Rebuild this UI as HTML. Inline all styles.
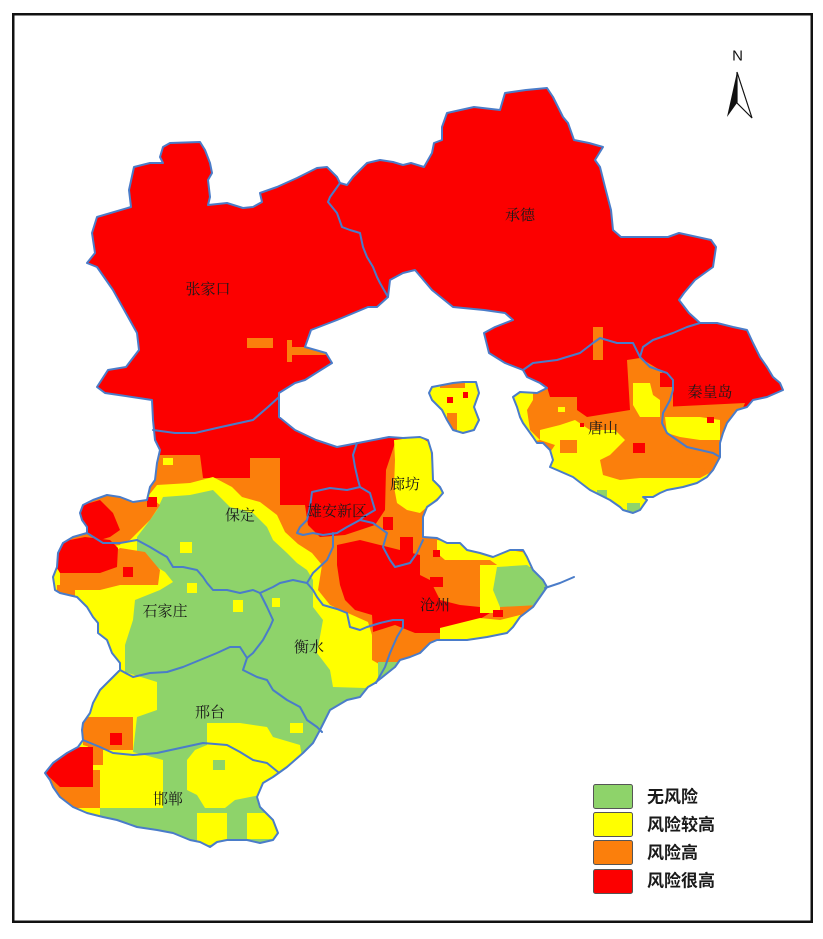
<!DOCTYPE html>
<html>
<head>
<meta charset="utf-8">
<style>
html,body{margin:0;padding:0;background:#fff;}
svg{display:block;}
.lbl{font-family:"Liberation Serif","Noto Serif CJK SC",serif;font-size:15px;fill:#1a1a1a;}
.leg{font-family:"Liberation Sans","Noto Sans CJK SC",sans-serif;font-size:17px;font-weight:bold;fill:#1a1a1a;}
</style>
</head>
<body>
<svg width="823" height="939" viewBox="0 0 823 939" xmlns="http://www.w3.org/2000/svg">
<defs>
<clipPath id="heb">
<path id="outerShape" d="M163,147 L170,143 L200,142 L205,150 L210,163 L212,173 L208,180 L210,197 L208,205 L227,203 L243,208 L253,207 L262,202 L260,193 L277,187 L297,178 L317,168 L327,167 L337,177 L340,183 L347,185 L353,177 L367,163 L380,160 L393,162 L403,165 L411,163 L424,167 L432,153 L434,143 L442,140 L442,127 L447,113 L474,107 L500,110 L505,93 L526,90 L547,88 L553,97 L563,117 L568,123 L574,140 L589,143 L603,147 L595,160 L600,167 L605,187 L611,210 L613,230 L621,237 L668,237 L679,233 L711,240 L716,247 L713,267 L695,280 L684,293 L679,300 L689,313 L700,323 L717,323 L733,327 L747,330 L753,343 L760,357 L767,367 L773,377 L780,383 L783,390 L767,397 L753,400 L747,407 L737,410 L727,423 L723,433 L720,443 L720,457 L713,470 L707,477 L697,483 L683,487 L667,490 L660,493 L653,497 L643,497 L647,500 L640,510 L633,513 L623,510 L620,507 L610,500 L590,490 L573,477 L557,470 L550,467 L553,460 L550,450 L543,443 L537,443 L533,437 L523,423 L520,417 L517,407 L513,397 L520,392 L537,393 L547,388 L540,383 L527,377 L523,370 L505,363 L489,353 L484,333 L495,327 L513,320 L505,313 L484,310 L453,307 L432,290 L415,270 L403,273 L390,280 L388,297 L377,307 L368,307 L337,320 L311,330 L305,347 L326,353 L332,363 L316,373 L305,380 L295,383 L279,393 L279,417 L295,430 L316,440 L337,447 L358,443 L389,437 L403,438 L420,437 L428,440 L432,453 L433,480 L440,487 L443,493 L437,500 L427,507 L423,517 L423,537 L437,538 L447,543 L460,543 L467,550 L480,553 L493,557 L510,550 L523,550 L527,557 L533,570 L543,580 L547,587 L540,597 L533,607 L520,617 L513,627 L507,633 L487,637 L467,640 L447,640 L437,640 L430,643 L420,653 L410,657 L400,660 L395,667 L385,675 L375,683 L368,687 L360,697 L347,700 L330,710 L320,730 L313,743 L303,753 L287,767 L273,777 L263,783 L257,797 L260,807 L273,820 L278,833 L273,840 L260,843 L247,840 L227,840 L217,842 L210,847 L200,842 L190,840 L173,833 L157,830 L137,827 L117,820 L103,817 L87,813 L73,807 L60,797 L53,787 L50,780 L45,773 L53,763 L67,753 L78,747 L83,740 L82,730 L83,723 L90,713 L93,703 L100,690 L110,680 L120,670 L120,663 L112,653 L107,640 L98,633 L98,623 L93,617 L87,607 L77,597 L60,593 L55,590 L53,577 L57,567 L58,553 L63,543 L73,537 L87,533 L87,527 L82,520 L80,513 L83,505 L93,500 L107,495 L120,497 L133,502 L147,500 L150,487 L155,480 L157,463 L160,450 L155,440 L153,420 L152,400 L105,393 L97,387 L108,370 L126,367 L139,350 L137,333 L113,290 L97,267 L87,263 L95,253 L92,233 L97,217 L131,207 L129,190 L134,167 L150,163 L163,163 L160,157 Z"/>
<path id="islandShape" d="M432,387 L453,383 L463,382 L476,382 L479,393 L474,407 L479,420 L474,430 L463,433 L453,430 L447,420 L442,410 L432,400 L429,393 Z"/>
</clipPath>
</defs>

<rect x="0" y="0" width="823" height="939" fill="#fff"/>

<g clip-path="url(#heb)">
  <rect x="0" y="0" width="823" height="939" fill="#fc0000"/>

  <polygon fill="#fb7f0c" points="140,455 200,455 203,478 250,478 250,458 280,458 440,440 445,540 600,540 600,720 30,720 30,455"/>

  <polygon fill="#fc0000" points="280,445 395,443 386,470 385,510 375,525 345,535 320,537 308,525 305,505 280,505"/>
  <polygon fill="#fc0000" points="337,545 360,540 380,545 400,550 420,555 420,575 430,580 440,600 460,605 480,607 490,613 470,625 445,633 415,633 395,625 373,632 372,615 355,610 345,600 340,585 337,565"/>

  <polygon fill="#ffff00" points="394,440 420,437 430,443 433,480 443,493 427,507 420,513 407,510 397,503 394,487 395,460"/>
  <rect x="383" y="517" width="10" height="13" fill="#fc0000"/>
  <rect x="400" y="537" width="13" height="23" fill="#fc0000"/>

  <polygon fill="#ffff00" points="145,500 157,485 190,483 213,477 232,487 242,497 260,502 277,515 285,532 298,544 312,553 322,565 318,590 330,605 350,614 368,622 372,635 372,660 386,668 430,700 330,800 300,870 20,870 20,560 120,545"/>

  <polygon fill="#8ed36a" points="157,510 163,497 190,495 213,490 223,500 230,507 253,513 267,527 273,540 287,553 297,563 307,570 313,580 313,607 323,620 317,653 330,670 333,687 365,688 405,668 430,700 330,780 290,860 100,860 100,808 163,808 163,760 133,752 137,717 157,710 157,682 125,672 125,645 133,620 135,600 160,590 173,582 165,572 150,563 137,553 137,537 150,520"/>

  <rect x="180" y="542" width="12" height="11" fill="#ffff00"/>
  <rect x="187" y="583" width="10" height="10" fill="#ffff00"/>
  <rect x="233" y="600" width="10" height="12" fill="#ffff00"/>
  <rect x="272" y="598" width="8" height="9" fill="#ffff00"/>
  <rect x="290" y="723" width="13" height="10" fill="#ffff00"/>

  <polygon fill="#fb7f0c" points="95,497 150,497 160,505 150,520 130,540 115,545 100,540 85,520"/>
  <polygon fill="#fc0000" points="83,505 100,500 113,513 120,530 110,537 100,540 87,533 80,517"/>
  <polygon fill="#fb7f0c" points="60,570 110,555 120,548 145,552 160,570 158,585 120,585 100,590 60,590"/>
  <rect x="57" y="585" width="18" height="15" fill="#fb7f0c"/>
  <polygon fill="#fc0000" points="55,543 85,537 110,540 118,548 117,567 100,573 60,573 52,560"/>
  <rect x="123" y="567" width="10" height="10" fill="#fc0000"/>
  <rect x="163" y="458" width="10" height="7" fill="#ffff00"/>
  <rect x="147" y="497" width="10" height="10" fill="#fc0000"/>

  <polygon fill="#fb7f0c" points="83,717 133,717 133,750 100,750 83,745"/>
  <rect x="110" y="733" width="12" height="12" fill="#fc0000"/>
  <polygon fill="#fb7f0c" points="40,770 100,770 100,808 55,808"/>
  <rect x="88" y="745" width="15" height="20" fill="#fb7f0c"/>
  <polygon fill="#fc0000" points="93,747 93,787 83,787 60,787 45,773 53,763 67,753 80,747"/>

  <polygon fill="#ffff00" points="207,723 240,723 267,727 273,737 300,745 303,763 290,765 275,775 265,783 260,795 235,800 225,808 205,808 197,795 187,790 187,760 195,750 207,745"/>
  <rect x="197" y="813" width="30" height="32" fill="#ffff00"/>
  <rect x="247" y="813" width="30" height="26" fill="#ffff00"/>
  <rect x="213" y="760" width="12" height="10" fill="#8ed36a"/>

  <polygon fill="#ffff00" points="437,540 460,543 480,553 510,550 527,553 533,567 500,567 490,560 470,560 445,560 437,553"/>
  <rect x="480" y="565" width="20" height="48" fill="#ffff00"/>
  <polygon fill="#8ed36a" points="497,567 527,565 540,575 550,590 540,605 500,607 493,590"/>
  <polygon fill="#ffff00" points="440,628 480,618 500,620 520,615 525,645 440,648"/>
  <rect x="430" y="577" width="13" height="10" fill="#fc0000"/>
  <rect x="493" y="610" width="10" height="7" fill="#fc0000"/>
  <rect x="433" y="550" width="7" height="7" fill="#fc0000"/>
  <rect x="378" y="662" width="22" height="25" fill="#8ed36a"/>

  <polygon fill="#fb7f0c" points="505,385 533,387 547,387 550,397 577,397 577,410 587,417 630,410 627,360 640,358 660,370 673,385 673,450 720,455 725,480 640,525 500,525"/>
  <rect x="660" y="373" width="13" height="14" fill="#fc0000"/>
  <polygon fill="#ffff00" points="505,388 533,390 533,400 527,410 530,430 540,440 520,445 505,440"/>
  <polygon fill="#ffff00" points="540,430 560,425 575,420 590,430 615,430 625,440 610,455 600,460 603,475 620,480 640,478 660,478 700,478 715,470 725,490 640,525 550,485 545,460 555,445 540,440"/>
  <rect x="560" y="440" width="17" height="13" fill="#fb7f0c"/>
  <rect x="633" y="443" width="12" height="10" fill="#fc0000"/>
  <rect x="580" y="423" width="4" height="4" fill="#fc0000"/>
  <polygon fill="#ffff00" points="633,383 650,383 653,395 660,400 660,417 640,417 633,405"/>
  <rect x="558" y="407" width="7" height="5" fill="#ffff00"/>
  <rect x="597" y="490" width="10" height="10" fill="#8ed36a"/>
  <rect x="627" y="503" width="13" height="12" fill="#8ed36a"/>

  <polygon fill="#fb7f0c" points="663,407 745,403 740,415 727,425 723,445 724,472 673,462 662,423"/>
  <polygon fill="#ffff00" points="665,417 700,417 720,420 720,440 700,440 680,437 667,433"/>
  <rect x="707" y="417" width="7" height="6" fill="#fc0000"/>

  <rect x="247" y="338" width="26" height="10" fill="#fb7f0c"/>
  <rect x="287" y="347" width="42" height="8" fill="#fb7f0c"/>
  <rect x="287" y="340" width="5" height="22" fill="#fb7f0c"/>
  <rect x="593" y="327" width="10" height="33" fill="#fb7f0c"/>

  <rect x="425" y="378" width="60" height="60" fill="#ffff00"/>
  <rect x="440" y="380" width="25" height="8" fill="#fb7f0c"/>
  <rect x="447" y="397" width="6" height="6" fill="#fc0000"/>
  <rect x="463" y="392" width="5" height="6" fill="#fc0000"/>
  <rect x="447" y="413" width="10" height="17" fill="#fb7f0c"/>
</g>

<g fill="none" stroke="#4a7cc9" stroke-width="2" stroke-linejoin="round" stroke-linecap="round">
  <use href="#outerShape"/>
  <use href="#islandShape"/>
  <polyline points="340,183 330,197 328,202 337,213 342,227 350,230 360,233 363,247 367,257 373,267 377,277 380,283 388,297"/>
  <polyline points="153,430 175,433 195,433 221,427 253,420 268,407 279,397"/>
  <polyline points="523,370 533,363 557,360 580,353 593,343 600,338 617,343 633,343 640,357"/>
  <polyline points="640,357 643,347 653,340 673,333 687,327 700,323"/>
  <polyline points="640,357 650,367 667,373 673,380 673,390 670,400 663,413 662,423 667,433 677,440 687,447 700,450 713,453 720,457"/>
  <polyline points="357,443 353,455 355,467 358,480 360,487"/>
  <polygon points="312,492 330,488 347,490 360,487 370,493 375,510 363,517 360,520 347,527 337,533 323,535 313,533 303,535 297,533 300,527 307,520 310,507"/>
  <polyline points="360,520 373,523 387,533 383,547 390,560 395,567 410,563 417,553 423,540"/>
  <polyline points="333,533 333,547 327,560 313,573 307,583"/>
  <polyline points="87,533 103,543 120,543 137,540 150,547 160,553 167,557 173,567 183,567 197,570 203,577 207,583 213,590 227,590 240,593 253,590 260,593 273,587 280,583 293,580 307,583"/>
  <polyline points="260,593 267,607 273,620 270,627 263,640 253,653 247,658"/>
  <polyline points="120,670 133,677 150,673 167,672 183,667 200,660 217,653 230,647 240,647 247,658"/>
  <polyline points="247,658 243,670 257,677 267,680 273,690 287,700 300,707 307,720 317,727 322,732"/>
  <polyline points="83,740 100,747 113,753 133,755 157,753 180,748 203,743 227,745 240,752 253,760 267,763 278,772"/>
  <polyline points="307,583 313,590 317,597 323,605 337,609 347,613 350,627 360,630 367,627 380,623 393,620 403,620 403,627 397,637 390,653 385,667 376,683"/>
  <polyline points="545,588 560,583 574,577"/>
</g>

<g class="lbl" text-anchor="middle" dominant-baseline="central">
  <text x="208" y="290">张家口</text>
  <text x="520" y="216">承德</text>
  <text x="710" y="393">秦皇岛</text>
  <text x="603" y="429">唐山</text>
  <text x="405" y="485">廊坊</text>
  <text x="337" y="512">雄安新区</text>
  <text x="240" y="516">保定</text>
  <text x="435" y="606">沧州</text>
  <text x="165" y="612">石家庄</text>
  <text x="309" y="648">衡水</text>
  <text x="210" y="713">邢台</text>
  <text x="168" y="800">邯郸</text>
</g>

<rect x="593.5" y="784.5" width="39" height="24" rx="2" fill="#8ed36a" stroke="#555" stroke-width="1"/>
<rect x="593.5" y="812.5" width="39" height="24" rx="2" fill="#ffff00" stroke="#555" stroke-width="1"/>
<rect x="593.5" y="840.5" width="39" height="24" rx="2" fill="#fb7f0c" stroke="#555" stroke-width="1"/>
<rect x="593.5" y="869.5" width="39" height="24" rx="2" fill="#fc0000" stroke="#555" stroke-width="1"/>
<g class="leg" dominant-baseline="central">
  <text x="647" y="797">无风险</text>
  <text x="647" y="825">风险较高</text>
  <text x="647" y="853">风险高</text>
  <text x="647" y="881">风险很高</text>
</g>

<text x="737.5" y="56" text-anchor="middle" dominant-baseline="central" font-family="Liberation Sans, sans-serif" font-size="15" fill="#111">N</text>
<polygon points="737,72 727,117 737,103" fill="#111"/>
<polygon points="737,72 752,118 737,103" fill="#fff" stroke="#111" stroke-width="1.2" stroke-linejoin="miter"/>

<rect x="13.25" y="14.25" width="798.5" height="907.5" fill="none" stroke="#111" stroke-width="2.5"/>
</svg>
</body>
</html>
